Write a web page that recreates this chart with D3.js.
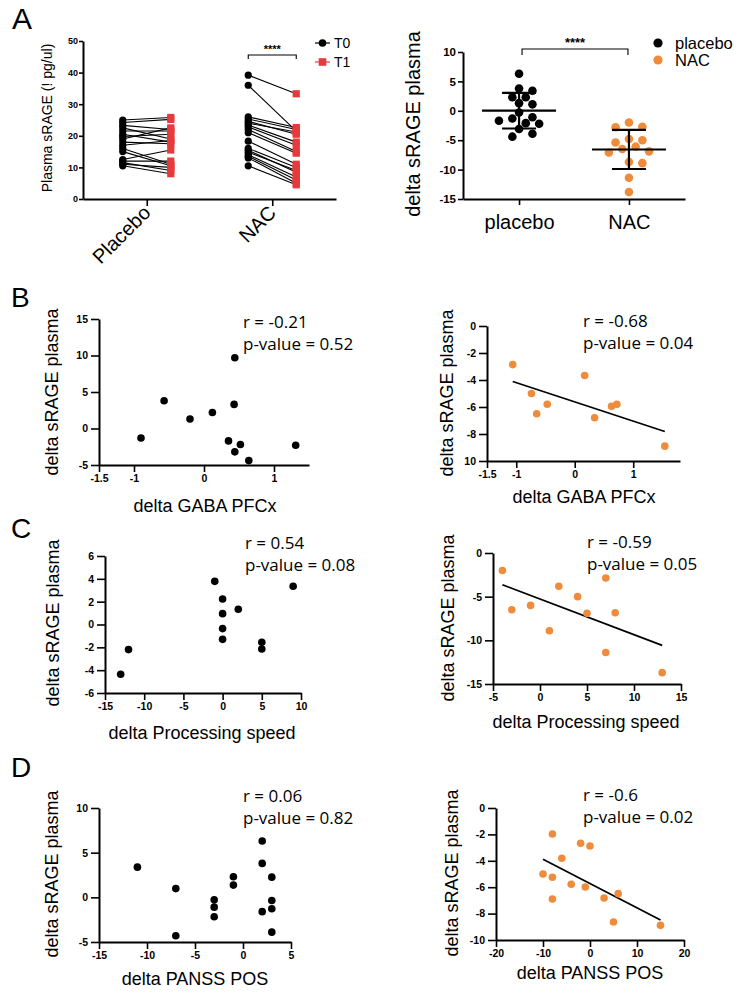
<!DOCTYPE html>
<html><head><meta charset="utf-8">
<script src="https://cdn.jsdelivr.net/npm/d3@7"></script>
<style>
html,body{margin:0;padding:0;background:#fff;}
svg{display:block;}
text{font-family:"Liberation Sans",Arial,sans-serif;}
</style></head>
<body>
<script>
// ---------------- DATA ----------------
// Panel A left: paired plasma sRAGE at T0 / T1
const pairGroups = ["Placebo","NAC"];
const placeboT0 = [25, 24.2, 23.3, 22.5, 21.5, 20.5, 19.8, 19, 18, 17, 16, 15, 12.5, 12, 11.5, 11, 10.5];
const placeboT1 = [25.8, 25.2, 22, 19, 21.5, 18, 20.5, 22.5, 17.5, 18.5, 11, 10.5, 15.5, 12, 9, 10, 8];
const nacT0 = [39.2, 36, 26, 25.3, 24.6, 24, 23.4, 22.8, 22, 21, 18.3, 16, 15.4, 14.8, 14, 13.5, 13, 10.5];
const nacT1 = [33.3, 21.5, 22.6, 22, 20.5, 21.2, 18, 17, 15, 14.5, 11, 10, 8.5, 9, 7, 6, 5, 4.5];
const pairYTicks = [0, 10, 20, 30, 40, 50];

// Panel A right: delta sRAGE plasma
const deltaGroups = ["placebo","NAC"];
const deltaPlacebo = [6.3, 3.8, 3.4, 2.3, 2.3, 1.1, 1.3, -0.3, -2.1, -1.3, -1.7, -1.1, -2.2, -3.1, -4.4, -3.9];
const deltaNAC = [-2.0, -2.8, -2.7, -4.8, -5.0, -5.4, -6.1, -6.5, -6.9, -7.1, -8.9, -8.7, -11.4, -13.8];
const deltaYTicks = [-15, -10, -5, 0, 5, 10];

// Panel B
const bPlaceboX = [0.44, -0.57, -0.2, 0.12, 0.43, -0.9, 0.35, 0.52, 0.44, 0.64, 1.31];
const bPlaceboY = [9.7, 3.8, 1.3, 2.2, 3.3, -1.3, -1.7, -2.2, -3.2, -4.4, -2.3];
const bNacX = [-1.06, -0.74, -0.65, -0.47, 0.17, 0.34, 0.63, 0.72, 1.54];
const bNacY = [-2.86, -5.0, -6.5, -5.8, -3.67, -6.8, -5.95, -5.8, -8.9];
const bLeftXTicks = [-1.5, -1, 0, 1];
const bLeftYTicks = [-5, 0, 5, 10, 15];
const bRightXTicks = [-1.5, -1, 0, 1];
const bRightYTicks = [-10, -8, -6, -4, -2, 0];
const bRightYLabels = ["10", "-8", "-6", "-4", "-2", "0"];

// Panel C
const cPlaceboX = [-1, 0, 0, 0, 0, 2, 5, 5, 9, -12, -13];
const cPlaceboY = [3.78, 2.24, 0.95, -0.36, -1.3, 1.33, -1.56, -2.14, 3.35, -2.2, -4.36];
const cNacX = [-4, -3, -1, 1, 2, 4, 5, 7, 8, 7, 13];
const cNacY = [-2.0, -6.5, -6.0, -8.9, -3.8, -5.0, -6.9, -2.87, -6.84, -11.4, -13.7];
const cLeftXTicks = [-15, -10, -5, 0, 5, 10];
const cLeftYTicks = [-6, -4, -2, 0, 2, 4, 6];
const cRightXTicks = [-5, 0, 5, 10, 15];
const cRightYTicks = [-15, -10, -5, 0];

// Panel D
const dPlaceboX = [-11, -7, -7, -3, -3, -3, -1, -1, 2, 2, 2, 3, 3, 3, 3];
const dPlaceboY = [3.38, 0.98, -4.3, -0.28, -1.1, -2.18, 2.3, 1.37, 6.3, 3.8, -1.6, 2.26, -0.35, -1.28, -3.9];
const dNacX = [-8, -2, 0, -6, -10, -8, -4, -1, -8, 3, 6, 5, 15];
const dNacY = [-1.97, -2.67, -2.88, -3.81, -5.0, -5.25, -5.78, -5.98, -6.89, -6.82, -6.49, -8.64, -8.89];
const dLeftXTicks = [-15, -10, -5, 0, 5];
const dLeftYTicks = [-5, 0, 5, 10];
const dRightXTicks = [-20, -10, 0, 10, 20];
const dRightYTicks = [-10, -8, -6, -4, -2, 0];

const stats = {
  bL: ["r = -0.21", "p-value = 0.52"], bR: ["r = -0.68", "p-value = 0.04"],
  cL: ["r = 0.54", "p-value = 0.08"],  cR: ["r = -0.59", "p-value = 0.05"],
  dL: ["r = 0.06", "p-value = 0.82"],  dR: ["r = -0.6", "p-value = 0.02"]
};

// ---------------- STYLE ----------------
const ORANGE = "#ef8c3b";
const RED = "#e63a3c";
const BLACK = "#000";
const W = 736, H = 993;

const svg = d3.select("body").append("svg").attr("width", W).attr("height", H);
svg.append("rect").attr("width", W).attr("height", H).attr("fill", "#fff");

function styleAxis(sel, fs, bold) {
  sel.select(".domain").attr("stroke", BLACK).attr("stroke-width", 2);
  sel.selectAll(".tick line").attr("stroke", BLACK).attr("stroke-width", 1.6);
  sel.selectAll(".tick text").attr("fill", BLACK)
    .style("font-family", '"Liberation Sans",Arial,sans-serif')
    .style("font-size", fs + "px").style("font-weight", bold ? "bold" : "normal");
}
function label(t, x, y, fs, opt = {}) {
  const el = svg.append("text").attr("x", x).attr("y", y).text(t)
    .style("font-size", fs + "px").attr("fill", BLACK);
  if (opt.anchor) el.attr("text-anchor", opt.anchor);
  if (opt.rot !== undefined) el.attr("transform", `rotate(${opt.rot},${x},${y})`);
  if (opt.central) el.attr("dominant-baseline", "central");
  if (opt.bold) el.style("font-weight", "bold");
  if (opt.family) el.style("font-family", opt.family);
  return el;
}

// Panel letters
label("A", 12, 29, 30);
label("B", 11, 307, 28);
label("C", 11, 538, 28);
label("D", 11, 777, 28);

// ---------------- PANEL A LEFT ----------------
(function () {
  const x = d3.scalePoint().domain(pairGroups).range([83, 336]).padding(0.508);
  const y = d3.scaleLinear().domain([0, 50]).range([199, 41]);
  const off = 24;
  const g = svg.append("g");
  const ya = g.append("g").attr("transform", "translate(83,0)")
    .call(d3.axisLeft(y).tickValues(pairYTicks).tickSize(4).tickPadding(1).tickSizeOuter(0).tickFormat(d => String(d)));
  styleAxis(ya, 9, true);
  const xa = g.append("g").attr("transform", "translate(0,199)")
    .call(d3.axisBottom(x).tickSize(7).tickSizeOuter(0).tickFormat(""));
  styleAxis(xa, 10, false);
  pairGroups.forEach(grp => {
    const cx = x(grp);
    label(grp, cx + 5, 214, 20, { anchor: "end", rot: -45 });
  });
  const sets = [[placeboT0, placeboT1, "Placebo"], [nacT0, nacT1, "NAC"]];
  sets.forEach(([a, b, grp]) => {
    const x0 = x(grp) - off, x1 = x(grp) + off;
    a.forEach((v, i) => {
      g.append("line").attr("x1", x0).attr("y1", y(v)).attr("x2", x1).attr("y2", y(b[i]))
        .attr("stroke", BLACK).attr("stroke-width", 1.1);
    });
    g.selectAll(null).data(a).enter().append("circle")
      .attr("cx", x0).attr("cy", d => y(d)).attr("r", 3.6).attr("fill", BLACK);
    g.selectAll(null).data(b).enter().append("rect")
      .attr("x", x1 - 3.6).attr("y", d => y(d) - 3.6).attr("width", 7.2).attr("height", 7.2).attr("fill", RED);
  });
  // significance bracket over NAC
  const bx0 = x("NAC") - off, bx1 = x("NAC") + off;
  g.append("path").attr("d", `M${bx0},59V55H${bx1}V59`).attr("fill", "none").attr("stroke", BLACK).attr("stroke-width", 1.1);
  label("****", (bx0 + bx1) / 2, 53, 11, { anchor: "middle", bold: true });
  label("Plasma sRAGE (! pg/ul)", 47, 118, 14, { anchor: "middle", rot: -90, central: true });
  // legend
  g.append("line").attr("x1", 315).attr("x2", 330).attr("y1", 43).attr("y2", 43).attr("stroke", BLACK).attr("stroke-width", 1.2);
  g.append("circle").attr("cx", 322.5).attr("cy", 43).attr("r", 3.8).attr("fill", BLACK);
  g.append("line").attr("x1", 315).attr("x2", 330).attr("y1", 62).attr("y2", 62).attr("stroke", RED).attr("stroke-width", 1.2);
  g.append("rect").attr("x", 318.7).attr("y", 58.2).attr("width", 7.6).attr("height", 7.6).attr("fill", RED);
  label("T0", 334, 43, 14, { central: true });
  label("T1", 334, 62, 14, { central: true });
})();

// ---------------- PANEL A RIGHT ----------------
function swarm(vals, cx, y, r, step) {
  const placed = [], out = new Array(vals.length);
  const order = vals.map((v, i) => i).sort((a, b) => vals[b] - vals[a]);
  for (const i of order) {
    const py = y(vals[i]);
    let done = false;
    for (let k = 0; k < 60 && !done; k++) {
      const cands = k === 0 ? [0] : [k, -k];
      for (const c of cands) {
        const px = cx + c * step;
        if (placed.every(p => Math.hypot(p[0] - px, p[1] - py) >= 2 * r + 0.3)) {
          placed.push([px, py]); out[i] = [px, py]; done = true; break;
        }
      }
    }
  }
  return out;
}
(function () {
  const x = d3.scalePoint().domain(deltaGroups).range([463, 685]).padding(0.51);
  const y = d3.scaleLinear().domain([-15, 10]).range([199, 52]);
  const g = svg.append("g");
  const ya = g.append("g").attr("transform", "translate(463,0)")
    .call(d3.axisLeft(y).tickValues(deltaYTicks).tickSize(5).tickPadding(2).tickSizeOuter(0).tickFormat(d => String(d)));
  styleAxis(ya, 11.5, true);
  const xa = g.append("g").attr("transform", "translate(0,199)")
    .call(d3.axisBottom(x).tickSize(6).tickPadding(10).tickSizeOuter(0));
  styleAxis(xa, 20, false);
  const r = 4.3;
  [[deltaPlacebo, "placebo", BLACK], [deltaNAC, "NAC", ORANGE]].forEach(([vals, grp, col]) => {
    const cx = x(grp);
    const pos = swarm(vals, cx, y, r, 6.7);
    g.selectAll(null).data(pos).enter().append("circle")
      .attr("cx", d => d[0]).attr("cy", d => d[1]).attr("r", r).attr("fill", col);
    const m = d3.mean(vals), sd = d3.deviation(vals);
    g.append("line").attr("x1", cx - 37).attr("x2", cx + 37).attr("y1", y(m)).attr("y2", y(m)).attr("stroke", BLACK).attr("stroke-width", 2.2);
    g.append("line").attr("x1", cx).attr("x2", cx).attr("y1", y(m + sd)).attr("y2", y(m - sd)).attr("stroke", BLACK).attr("stroke-width", 2.2);
    [m + sd, m - sd].forEach(v => g.append("line").attr("x1", cx - 17).attr("x2", cx + 17)
      .attr("y1", y(v)).attr("y2", y(v)).attr("stroke", BLACK).attr("stroke-width", 2.2));
  });
  const bx0 = x("placebo") + 3, bx1 = x("NAC") - 1;
  g.append("path").attr("d", `M${bx0},55V49H${bx1}V55`).attr("fill", "none").attr("stroke", BLACK).attr("stroke-width", 1.1);
  label("****", (bx0 + bx1) / 2, 47, 13, { anchor: "middle", bold: true });
  label("delta sRAGE plasma", 413, 124, 20, { anchor: "middle", rot: -90, central: true });
  g.append("circle").attr("cx", 658).attr("cy", 43).attr("r", 4.6).attr("fill", BLACK);
  g.append("circle").attr("cx", 658).attr("cy", 60).attr("r", 4.6).attr("fill", ORANGE);
  label("placebo", 675, 43, 16.5, { central: true });
  label("NAC", 675, 60, 16.5, { central: true });
})();

// ---------------- SCATTER PANELS ----------------
function scatterPanel(o) {
  const x = d3.scaleLinear().domain(o.xDom).range(o.xR);
  const y = d3.scaleLinear().domain(o.yDom).range(o.yR);
  const g = svg.append("g");
  const ya = g.append("g").attr("transform", `translate(${o.xR[0]},0)`)
    .call(d3.axisLeft(y).tickValues(o.yTicks).tickSize(8).tickPadding(3).tickSizeOuter(0)
      .tickFormat((d, i) => o.yLabels ? o.yLabels[i] : String(d)));
  styleAxis(ya, 10.5, true);
  const xa = g.append("g").attr("transform", `translate(0,${o.yR[0]})`)
    .call(d3.axisBottom(x).tickValues(o.xTicks).tickSize(7).tickPadding(3).tickSizeOuter(0).tickFormat(d => String(d)));
  styleAxis(xa, 10.5, true);
  if (o.fit) {
    const mx = d3.mean(o.xs), my = d3.mean(o.ys);
    const sxy = d3.sum(o.xs, (v, i) => (v - mx) * (o.ys[i] - my));
    const sxx = d3.sum(o.xs, v => (v - mx) * (v - mx));
    const b = sxy / sxx, a = my - b * mx;
    const [x0, x1] = d3.extent(o.xs);
    g.append("line").attr("x1", x(x0)).attr("y1", y(a + b * x0)).attr("x2", x(x1)).attr("y2", y(a + b * x1))
      .attr("stroke", BLACK).attr("stroke-width", 1.8);
  }
  g.selectAll(null).data(o.xs).enter().append("circle")
    .attr("cx", d => x(d)).attr("cy", (d, i) => y(o.ys[i])).attr("r", 3.8).attr("fill", o.color);
  label(o.stat[0], o.tx, o.ty, 17, { family: '"Open Sans",sans-serif' });
  label(o.stat[1], o.tx, o.ty + 21.5, 17, { family: '"Open Sans",sans-serif' });
  label("delta sRAGE plasma", o.yt[0], o.yt[1], 18, { anchor: "middle", rot: -90, central: true });
  label(o.xTitle, o.xt[0], o.xt[1], 18, { anchor: "middle", central: true });
}

scatterPanel({ xDom: [-1.5, 1.5], xR: [99, 309], yDom: [-5, 15], yR: [465, 319],
  xTicks: bLeftXTicks, yTicks: bLeftYTicks, xs: bPlaceboX, ys: bPlaceboY, color: BLACK, fit: false,
  stat: stats.bL, tx: 243, ty: 328, yt: [52, 392], xTitle: "delta GABA PFCx", xt: [205, 506] });
scatterPanel({ xDom: [-1.5, 1.8], xR: [487, 680], yDom: [-10, 0], yR: [461, 326],
  xTicks: bRightXTicks, yTicks: bRightYTicks, yLabels: bRightYLabels, xs: bNacX, ys: bNacY, color: ORANGE, fit: true,
  stat: stats.bR, tx: 583, ty: 327, yt: [447, 393], xTitle: "delta GABA PFCx", xt: [584, 497] });
scatterPanel({ xDom: [-15, 10], xR: [105, 301], yDom: [-6, 6], yR: [693, 556],
  xTicks: cLeftXTicks, yTicks: cLeftYTicks, xs: cPlaceboX, ys: cPlaceboY, color: BLACK, fit: false,
  stat: stats.cL, tx: 245, ty: 549, yt: [53, 623], xTitle: "delta Processing speed", xt: [202, 733] });
scatterPanel({ xDom: [-5, 15], xR: [493, 681], yDom: [-15, 0], yR: [684, 553],
  xTicks: cRightXTicks, yTicks: cRightYTicks, xs: cNacX, ys: cNacY, color: ORANGE, fit: true,
  stat: stats.cR, tx: 587, ty: 548, yt: [448, 618], xTitle: "delta Processing speed", xt: [586, 722] });
scatterPanel({ xDom: [-15, 5], xR: [99, 291], yDom: [-5, 10], yR: [942, 808],
  xTicks: dLeftXTicks, yTicks: dLeftYTicks, xs: dPlaceboX, ys: dPlaceboY, color: BLACK, fit: false,
  stat: stats.dL, tx: 243, ty: 802, yt: [52, 874], xTitle: "delta PANSS POS", xt: [195, 979] });
scatterPanel({ xDom: [-20, 20], xR: [496, 684], yDom: [-10, 0], yR: [940, 808],
  xTicks: dRightXTicks, yTicks: dRightYTicks, xs: dNacX, ys: dNacY, color: ORANGE, fit: true,
  stat: stats.dR, tx: 583, ty: 801, yt: [452, 873], xTitle: "delta PANSS POS", xt: [590, 973] });
</script>
</body></html>
